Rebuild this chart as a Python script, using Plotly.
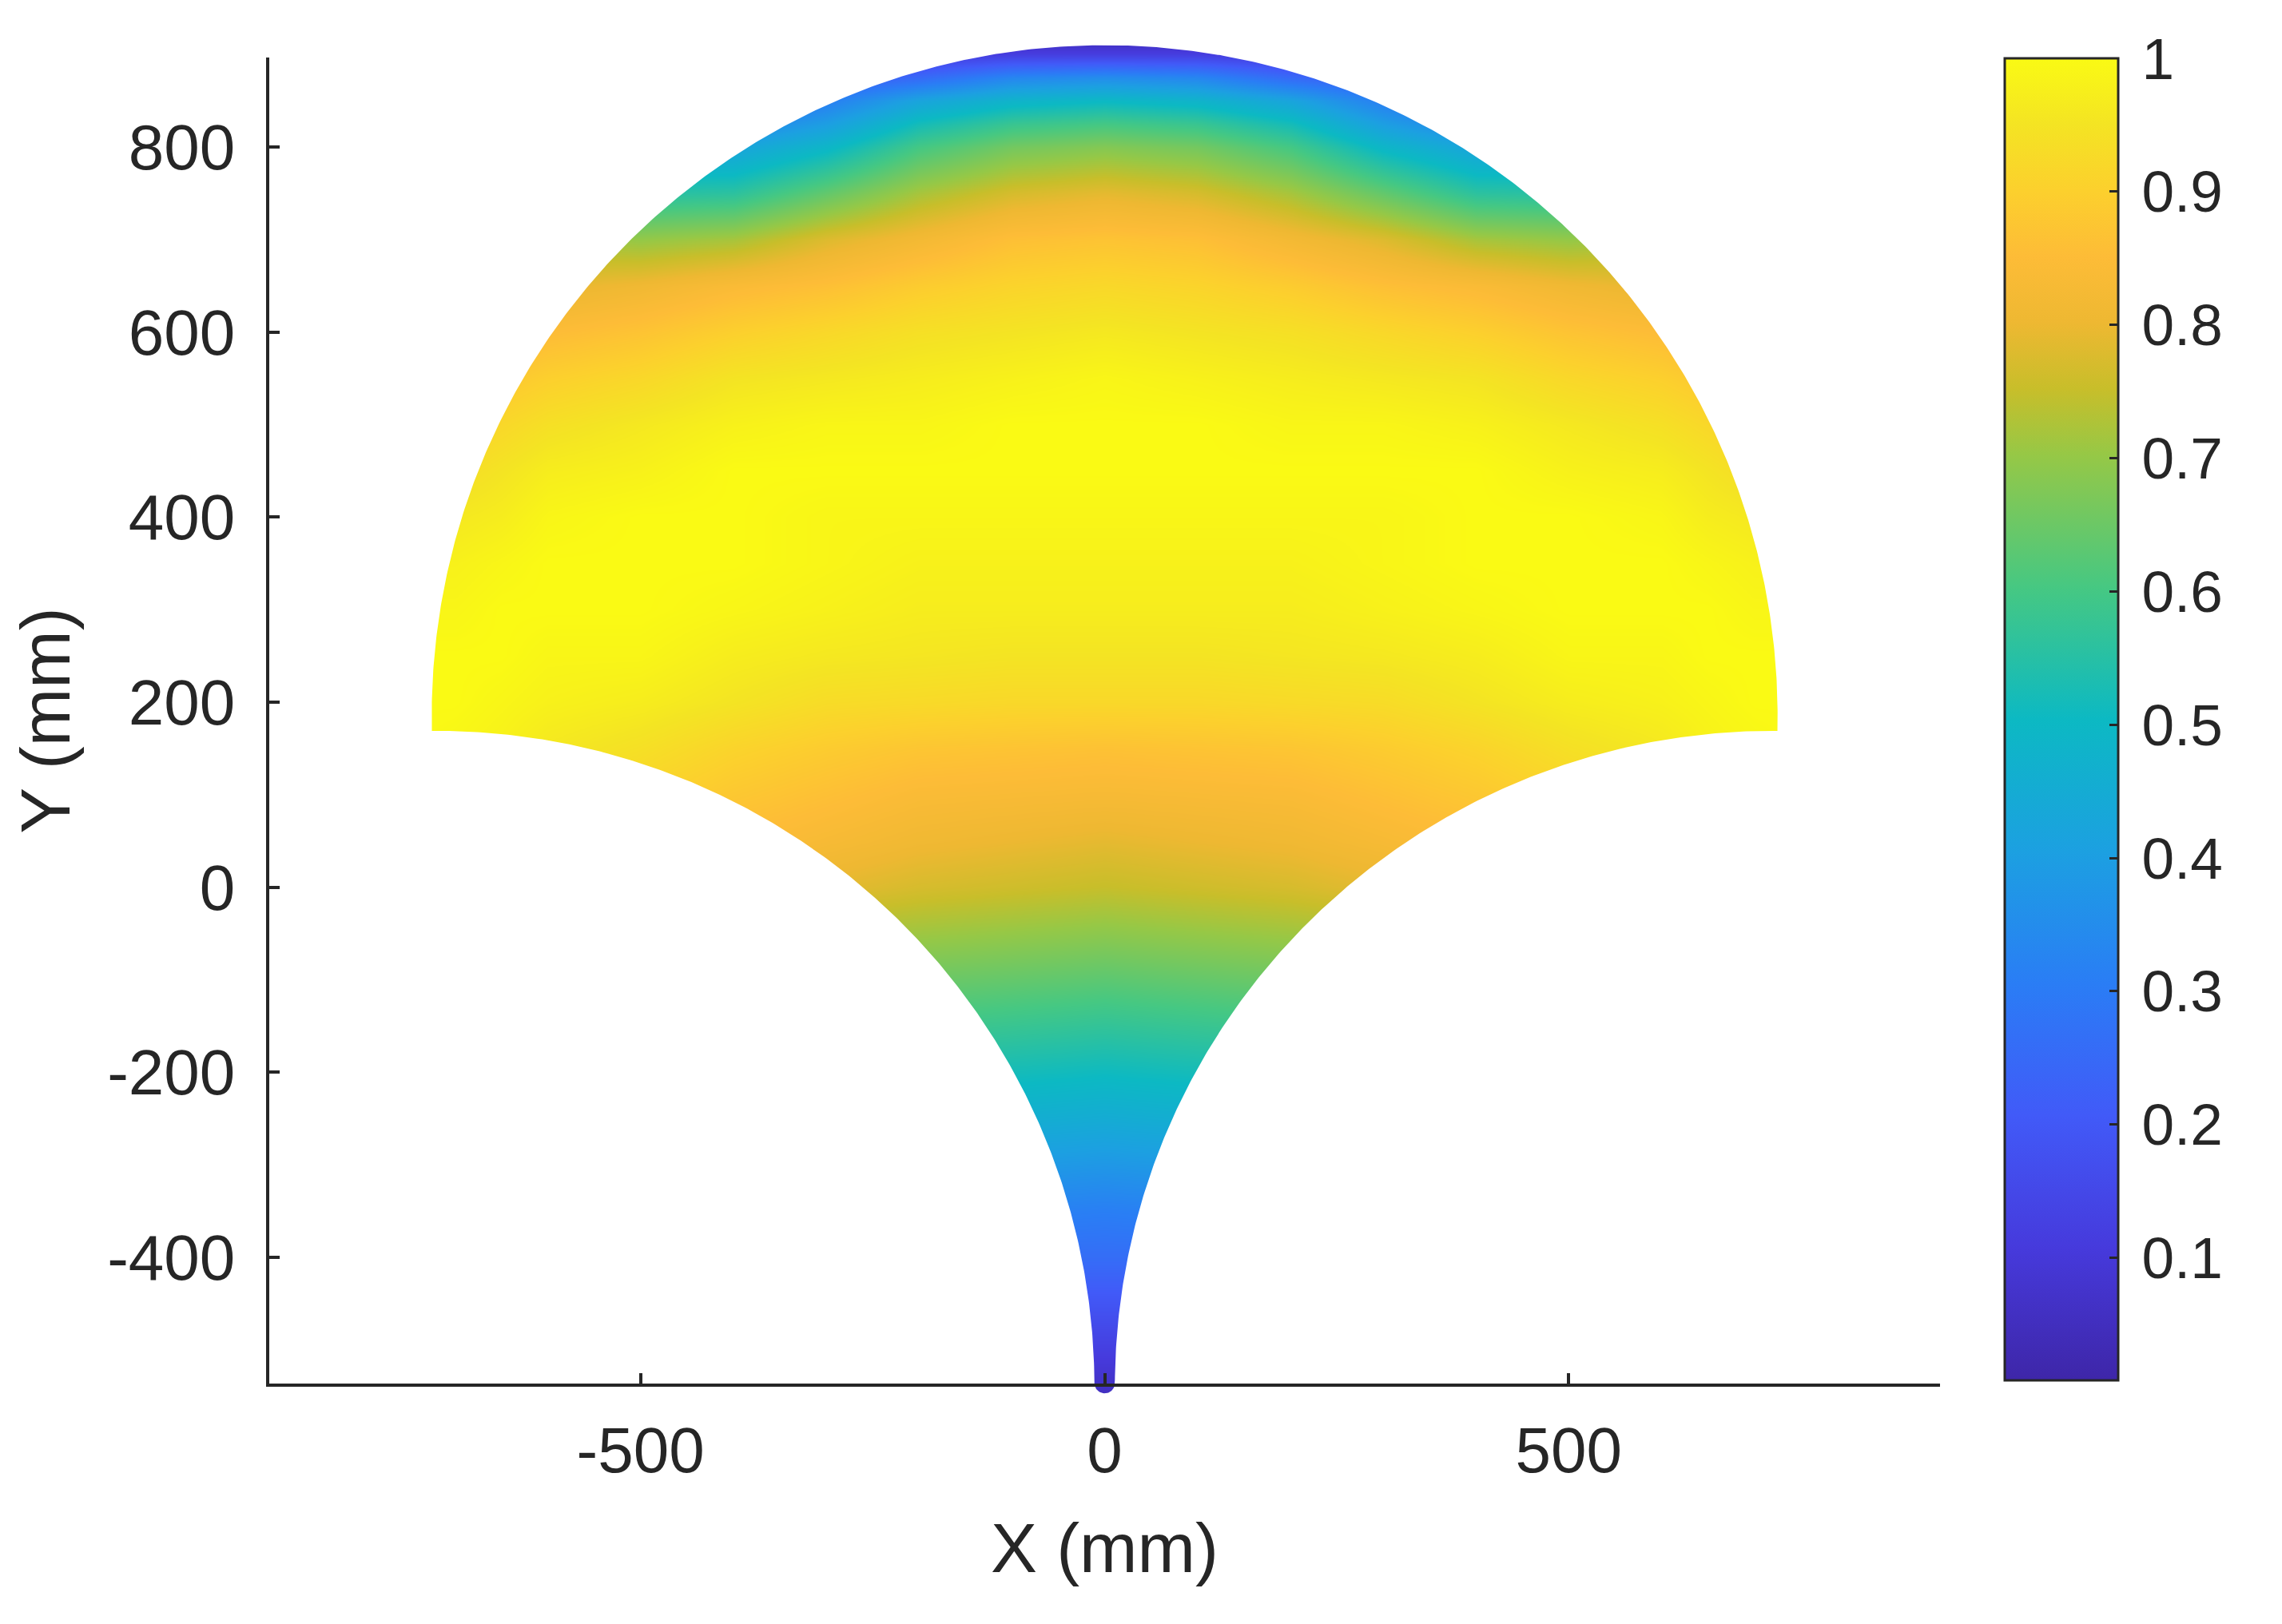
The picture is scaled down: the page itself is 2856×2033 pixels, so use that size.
import numpy as np
import plotly.graph_objects as go

# ---------------- data ----------------
# Normalised index sampled on a grid (right half; the chart is mirror-symmetric about X = 0)
Y_ROWS = [-550, -500, -450, -400, -350, -300, -250, -200, -150, -100, -50, 0, 50, 100, 150,
          200, 250, 300, 350, 400, 450, 500, 550, 600, 650, 700, 750, 800, 825, 850, 875, 900, 920]
X_COLS = [0, 100, 200, 300, 400, 500, 600, 650, 700, 750]
N = None
V_X0 = [0.05, 0.12, 0.19, 0.26, 0.31, 0.38, 0.45, 0.51, 0.57, 0.63, 0.69, 0.75, 0.79, 0.83, 0.865,
        0.92, 0.95, 0.97, 0.98, 0.99, 1.00, 1.00, 0.99, 0.96, 0.92, 0.87, 0.79, 0.68, 0.60, 0.50, 0.35, 0.12, 0.02]
V_X100 = [0.05, 0.12, 0.19, 0.26, 0.32, 0.39, 0.46, 0.52, 0.58, 0.64, 0.70, 0.76, 0.80, 0.835, 0.87,
          0.92, 0.95, 0.97, 0.98, 0.99, 1.00, 1.00, 0.98, 0.95, 0.91, 0.86, 0.77, 0.66, 0.58, 0.48, 0.33, 0.12, 0.02]
V_X200 = [0.05, 0.12, 0.19, 0.26, 0.32, 0.39, 0.46, 0.53, 0.59, 0.65, 0.71, 0.77, 0.81, 0.84, 0.875,
          0.925, 0.955, 0.97, 0.98, 0.99, 1.00, 0.99, 0.97, 0.94, 0.89, 0.82, 0.72, 0.60, 0.52, 0.42, 0.25, 0.10, 0.02]
V_X300 = [N, N, N, N, N, N, N, N, N, 0.66, 0.72, 0.79, 0.83, 0.86, 0.89,
          0.93, 0.96, 0.98, 0.99, 0.99, 1.00, 0.99, 0.96, 0.92, 0.86, 0.78, 0.64, 0.49, 0.40, 0.31, 0.20, 0.08, 0.0]
V_X400 = [N, N, N, N, N, N, N, N, N, N, N, 0.81, 0.85, 0.88, 0.91,
          0.95, 0.97, 0.99, 1.00, 1.00, 1.00, 0.98, 0.95, 0.90, 0.84, 0.72, 0.56, 0.42, 0.32, 0.22, N, N, N]
V_X500 = [N, N, N, N, N, N, N, N, N, N, N, N, 0.88, 0.91, 0.94,
          0.97, 0.99, 1.00, 1.00, 1.00, 0.98, 0.96, 0.92, 0.87, 0.81, 0.70, 0.55, 0.42, N, N, N, N, N]
V_X600 = [N, N, N, N, N, N, N, N, N, N, N, N, N, 0.94, 0.96,
          0.98, 0.99, 1.00, 1.00, 0.99, 0.97, 0.94, 0.90, 0.85, 0.79, 0.72, N, N, N, N, N, N, N]
V_X650 = [N, N, N, N, N, N, N, N, N, N, N, N, N, 0.96, 0.98,
          0.99, 1.00, 1.00, 0.99, 0.97, 0.95, 0.92, 0.88, 0.83, N, N, N, N, N, N, N, N, N]
V_X700 = [N, N, N, N, N, N, N, N, N, N, N, N, N, N, 0.99,
          1.00, 1.00, 0.99, 0.98, 0.96, 0.93, N, N, N, N, N, N, N, N, N, N, N, N]
V_X750 = [N, N, N, N, N, N, N, N, N, N, N, N, N, N, 1.00,
          1.00, 1.00, 0.99, 0.98, 0.96, N, N, N, N, N, N, N, N, N, N, N, N, N]
COLUMNS = [V_X0, V_X100, V_X200, V_X300, V_X400, V_X500, V_X600, V_X650, V_X700, V_X750]

# workspace outline (mm), including the scatter-marker fringe
OUTER_CENTER = (0.0, 185.0)
OUTER_R = 725.0
LOWER_CENTER_X = 720.0
LOWER_CENTER_Y = -540.0
LOWER_R = 709.0
CUSP_Y = -536.0          # where the rounded tip of the cusp starts

X_TICKS = [-500, 0, 500]
Y_TICKS = [-400, -200, 0, 200, 400, 600, 800]
CB_TICKS = [0.1, 0.2, 0.3, 0.4, 0.5, 0.6, 0.7, 0.8, 0.9, 1.0]
CB_TEXT = ["0.1", "0.2", "0.3", "0.4", "0.5", "0.6", "0.7", "0.8", "0.9", "1"]
Z_MIN, Z_MAX = 0.008, 1.0

# ---------------- build the full (mirrored) grid ----------------
x_full = [-c for c in X_COLS[:0:-1]] + X_COLS
z = []
for i in range(len(Y_ROWS)):
    right = [col[i] for col in COLUMNS]
    z.append(right[:0:-1] + right)

# ---------------- outline / mask geometry ----------------
def circ_int(c0, r0, c1, r1):
    c0 = np.array(c0); c1 = np.array(c1)
    d = np.linalg.norm(c1 - c0)
    a = (r0**2 - r1**2 + d**2) / (2 * d)
    h = np.sqrt(max(r0**2 - a**2, 0))
    p = c0 + a * (c1 - c0) / d
    perp = np.array([-(c1 - c0)[1], (c1 - c0)[0]]) / d
    return [p + h * perp, p - h * perp]

cR = (LOWER_CENTER_X, LOWER_CENTER_Y)
cL = (-LOWER_CENTER_X, LOWER_CENTER_Y)
pts = circ_int(OUTER_CENTER, OUTER_R, cR, LOWER_R)
pR = max(pts, key=lambda p: p[1])
angR_outer = np.arctan2(pR[1] - OUTER_CENTER[1], pR[0] - OUTER_CENTER[0])
angR_lower = np.arctan2(pR[1] - cR[1], pR[0] - cR[0])

x_gap = LOWER_CENTER_X - np.sqrt(LOWER_R**2 - (CUSP_Y - LOWER_CENTER_Y)**2)
angL_start = np.arctan2(CUSP_Y - cL[1], -x_gap - cL[0])
angR_end = np.arctan2(CUSP_Y - cR[1], x_gap - cR[0])

# clockwise outline: left lower arc up -> top arc left->right -> right lower arc down -> round tip
a_left = np.linspace(angL_start, np.pi - angR_lower, 300)
left_x = cL[0] + LOWER_R * np.cos(a_left)
left_y = cL[1] + LOWER_R * np.sin(a_left)
a_top = np.linspace(np.pi - angR_outer, angR_outer, 600)
top_x = OUTER_CENTER[0] + OUTER_R * np.cos(a_top)
top_y = OUTER_CENTER[1] + OUTER_R * np.sin(a_top)
a_right = np.linspace(angR_lower, angR_end, 300)
right_x = cR[0] + LOWER_R * np.cos(a_right)
right_y = cR[1] + LOWER_R * np.sin(a_right)
a_tip = np.linspace(0.0, -np.pi, 30)
tip_x = x_gap * np.cos(a_tip)
tip_y = CUSP_Y + x_gap * np.sin(a_tip)
shape_x = np.concatenate([left_x, top_x, right_x, tip_x])
shape_y = np.concatenate([left_y, top_y, right_y, tip_y])

# ---------------- layout geometry (pixels, page has an 8 px body offset) ----------------
OFF = 8
W, H = 2856 - OFF, 2033 - OFF
ML = 337 - OFF
MR = W - (2428 - OFF)
MT = 40 - OFF
MB = H - (1760 - OFF)
vis_top_px, vis_bot_px = 72, 1732       # screen pixels of the visible axes box
area_h = H - MT - MB
YR = [-536.4, 896.7]
pxmm = (vis_bot_px - vis_top_px) / (YR[1] - YR[0])
Y_HIDDEN = [YR[0] - (1760 - vis_bot_px) / pxmm, YR[1] + (vis_top_px - 40) / pxmm]
dom2 = [(1760 - vis_bot_px) / area_h, (1760 - vis_top_px) / area_h]

lo, hi = Y_HIDDEN[0] - 10, Y_HIDDEN[1] + 10
# seam runs from the left end of the top arc straight out to the left edge (outside the heatmap data)
k = len(left_x) - 1
seam_x, seam_y = left_x[k], left_y[k]
ring_x = np.concatenate([left_x[k:], top_x, right_x, tip_x, left_x[:k + 1]])
ring_y = np.concatenate([left_y[k:], top_y, right_y, tip_y, left_y[:k + 1]])
mask_x = np.concatenate([[-900, -900, 900, 900, -900, -900], ring_x, [-900]])
mask_y = np.concatenate([[seam_y, lo, lo, hi, hi, seam_y], ring_y, [seam_y]])

colorscale = [
    [0.0, 'rgb(62,38,168)'], [0.1, 'rgb(70,58,220)'], [0.2, 'rgb(65,90,248)'],
    [0.3, 'rgb(42,125,245)'], [0.4, 'rgb(28,160,225)'], [0.5, 'rgb(12,185,195)'],
    [0.6, 'rgb(70,200,130)'], [0.7, 'rgb(150,200,70)'], [0.75, 'rgb(200,190,42)'],
    [0.8, 'rgb(238,184,50)'], [0.85, 'rgb(253,188,55)'], [0.9, 'rgb(252,208,45)'],
    [0.95, 'rgb(244,228,35)'], [1.0, 'rgb(250,250,20)']]

FONT = "Liberation Sans, Arial, sans-serif"
INK = "#262626"

cb_len = 1655
cb_center_screen = (73 + 1728) / 2
cb_y = 1 - (cb_center_screen - 40) / area_h
cb_x = (2509 - 337) / (2428 - 337)
cb_text = ['<span style="font-size:46px">\u00a0</span>' + t for t in CB_TEXT]

fig = go.Figure()
fig.add_trace(go.Heatmap(
    x=x_full, y=Y_ROWS, z=z, xaxis='x', yaxis='y',
    zsmooth='best', connectgaps=True, colorscale=colorscale, zmin=Z_MIN, zmax=Z_MAX,
    hoverinfo='skip',
    colorbar=dict(x=cb_x, xanchor='left', xpad=0, ypad=0, y=cb_y, yanchor='middle',
                  len=cb_len, lenmode='pixels', thickness=142, thicknessmode='pixels',
                  outlinewidth=3, outlinecolor=INK, borderwidth=0,
                  tickmode='array', tickvals=CB_TICKS, ticktext=cb_text,
                  ticks='inside', ticklen=12, tickwidth=3, tickcolor=INK,
                  tickfont=dict(family=FONT, size=73, color=INK))))
fig.add_trace(go.Scatter(
    x=mask_x, y=mask_y, xaxis='x', yaxis='y', mode='lines', fill='toself',
    fillcolor='white', line=dict(width=0, color='white'), hoverinfo='skip', showlegend=False))
# empty trace that puts the visible axes (x, y2) into their own subplot, drawn on top
fig.add_trace(go.Scatter(x=[None], y=[None], xaxis='x', yaxis='y2', mode='markers',
                         hoverinfo='skip', showlegend=False))

axis_common = dict(showline=True, linecolor=INK, linewidth=3.5, ticks='inside', ticklen=13,
                   tickwidth=3.5, tickcolor=INK, showgrid=False, zeroline=False, mirror=False,
                   tickfont=dict(family=FONT, size=80, color=INK), tickmode='array')
fig.update_layout(
    width=W, height=H, margin=dict(l=ML, r=MR, t=MT, b=MB, pad=0),
    paper_bgcolor='white', plot_bgcolor='rgba(0,0,0,0)', showlegend=False,
    xaxis=dict(domain=[0, 1], range=[-900, 900], anchor='y2', tickvals=X_TICKS,
               ticktext=[str(v) for v in X_TICKS], ticklabelstandoff=11,
               title=dict(text='X (mm)', font=dict(family=FONT, size=87, color=INK), standoff=49),
               **axis_common),
    yaxis=dict(domain=[0, 1], range=Y_HIDDEN, visible=False, anchor='x'),
    yaxis2=dict(domain=dom2, range=YR, anchor='x', tickvals=Y_TICKS,
                ticktext=[str(v) for v in Y_TICKS], ticklabelstandoff=23,
                title=dict(text='Y (mm)', font=dict(family=FONT, size=87, color=INK), standoff=25),
                **axis_common),
)
fig.write_html("out.html")
